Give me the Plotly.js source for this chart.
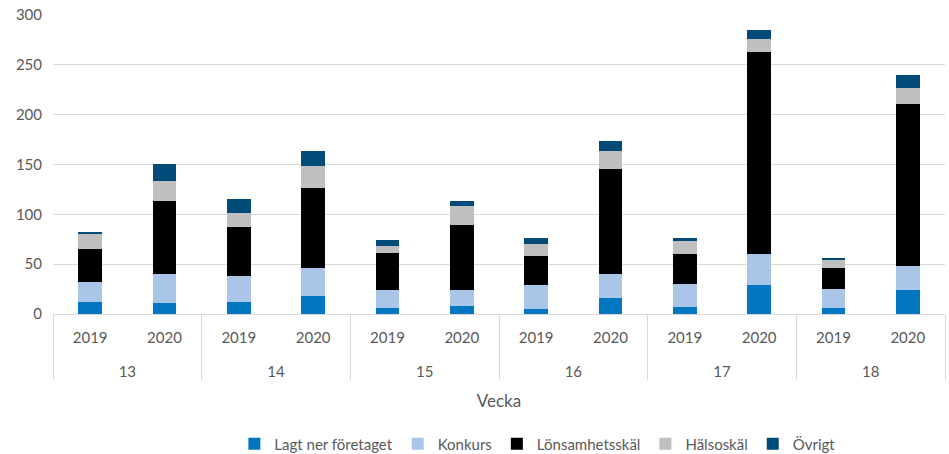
<!DOCTYPE html>
<html>
<head>
<meta charset="utf-8">
<script src="https://cdn.plot.ly/plotly-3.0.1.min.js"></script>
<style>
  html, body { margin: 0; padding: 0; background: #fff; }
  #chart { width: 949px; height: 454px; }
</style>
</head>
<body>
<div id="chart"></div>
<script>
// veckor och år
const weeks = ["13", "14", "15", "16", "17", "18"];
const years = ["2019", "2020"];

// värden per vecka/år (13-2019, 13-2020, 14-2019, ...)
const lagtNer = [12, 11, 12, 18, 6, 8, 5, 16, 7, 29, 6, 24];
const konkurs = [20, 29, 26, 28, 18, 16, 24, 24, 23, 31, 19, 24];
const lonsamhet = [33, 73, 49, 80, 37, 65, 29, 105, 30, 203, 21, 163];
const halsoskal = [15, 20, 14, 22, 7, 19, 12, 19, 13, 13, 9, 16];
const ovrigt = [2, 18, 14, 16, 6, 5, 6, 10, 3, 9, 1, 13];

const seriesNames = ["Lagt ner företaget", "Konkurs", "Lönsamhetsskäl", "Hälsoskäl", "Övrigt"];
const seriesColors = ["#0077c0", "#a9c6e9", "#000000", "#bfbfbf", "#024a78"];
const seriesValues = [lagtNer, konkurs, lonsamhet, halsoskal, ovrigt];

// årsetiketten får en tom rad under sig så att veckan hamnar längre ner
const xWeek = weeks.flatMap((w) => years.map(() => w));
const xYear = weeks.flatMap(() =>
  years.map((y) => y + "<br><span style='font-size:34px'>&nbsp;</span>")
);

const data = seriesNames.map((name, i) => ({
  type: "bar",
  name: name,
  x: [xWeek, xYear],
  y: seriesValues[i],
  marker: { color: seriesColors[i] }
}));

const layout = {
  width: 949,
  height: 454,
  barmode: "stack",
  bargap: 0.68,
  margin: { l: 53, r: 4, t: 15, b: 140 },
  paper_bgcolor: "#fff",
  plot_bgcolor: "#fff",
  font: { family: "Lato, 'Liberation Sans', sans-serif", size: 15, color: "#595959" },
  xaxis: {
    type: "multicategory",
    automargin: false,
    showline: true,
    linecolor: "#d9d9d9",
    linewidth: 1,
    showdividers: true,
    dividercolor: "#d9d9d9",
    dividerwidth: 1,
    ticks: "",
    ticklabelstandoff: 10,
    tickfont: { size: 15, color: "#595959" },
    title: { text: "Vecka", standoff: 16, font: { size: 17, color: "#595959" } }
  },
  yaxis: {
    range: [0, 300],
    dtick: 50,
    automargin: false,
    gridcolor: "#d9d9d9",
    gridwidth: 1,
    zeroline: false,
    ticks: "",
    ticklabelstandoff: 10,
    tickfont: { size: 15, color: "#595959" }
  },
  legend: {
    orientation: "h",
    x: 0.543,
    xanchor: "center",
    yref: "container",
    y: 0.022,
    yanchor: "middle",
    font: { size: 15, color: "#595959" },
    traceorder: "normal"
  }
};

Plotly.newPlot("chart", data, layout, { displayModeBar: false });
</script>
</body>
</html>
